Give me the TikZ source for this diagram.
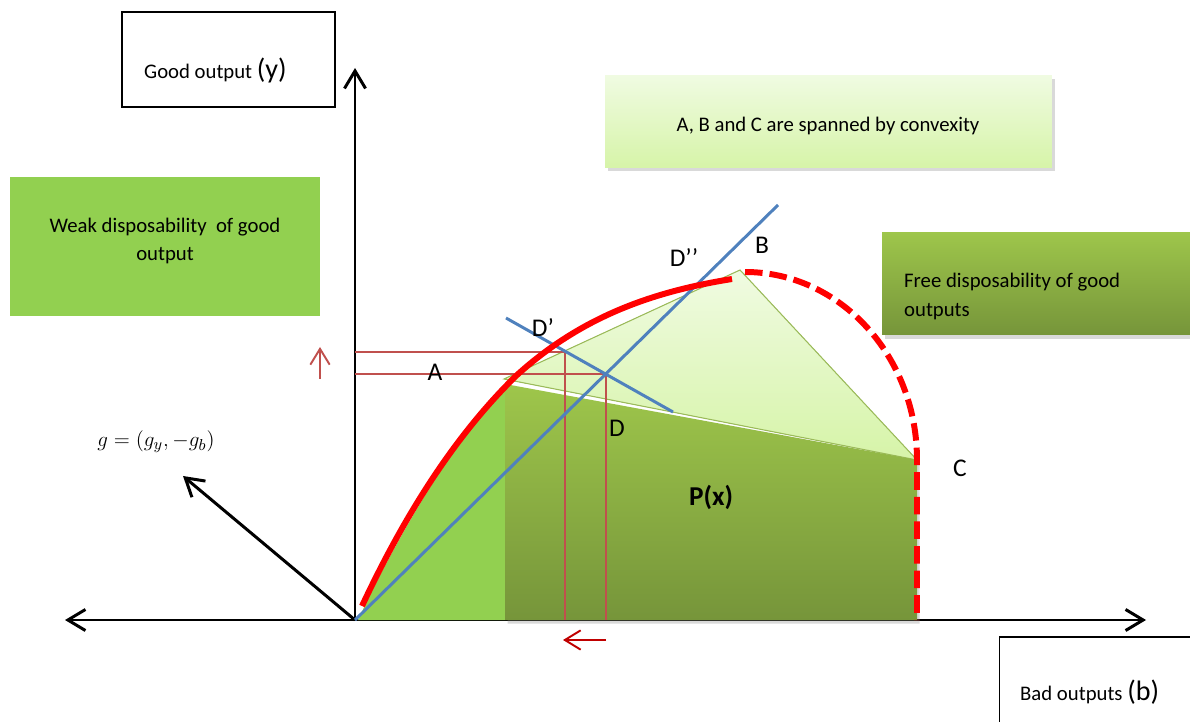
\documentclass[tikz,border=0pt]{standalone}
\usepackage{fontspec}
\setmainfont{Carlito}
\usetikzlibrary{arrows.meta,shadows}

\definecolor{weakgreen}{HTML}{92D050}
\definecolor{hulltop}{HTML}{F0FBE2}
\definecolor{hullbot}{HTML}{D6F4A8}
\definecolor{ptop}{HTML}{9EC64B}
\definecolor{pbot}{HTML}{76953A}
\definecolor{edgegreen}{HTML}{9BBB59}
\definecolor{lineblue}{HTML}{4F81BD}
\definecolor{guidered}{HTML}{C0504D}
\definecolor{darkred}{HTML}{C00000}

\begin{document}
\begin{tikzpicture}[
            x=0.02cm, y=-0.02cm,
            axis/.style={
                line width=1.7pt,
                black
            },
            frontier/.style={
                line width=3.4pt,
                red
            },
            blueline/.style={
                line width=1.7pt,
                lineblue
            },
            guide/.style={
                line width=0.8pt,
                guidered
            },
            label/.style={
                font=\fontsize{14.5}{17}\selectfont
            },
            plainbox/.style={
                draw,
                line width=0.6pt,
                inner sep=0pt
            },
            boxtext/.style={
                font=\fontsize{11.8}{16.4}\selectfont
            },
            softshadow/.style={
                drop shadow={opacity=0.3, shadow xshift=1.5pt, shadow yshift=-2pt}
            }
        ]

            \useasboundingbox (0,0) rectangle (1190,722);

            % points
            \coordinate (O) at (355,620);
            \coordinate (xl) at (65,620);
            \coordinate (xr) at (1146,620);
            \coordinate (yt) at (355,68);
            \coordinate (gv) at (183,476);
            \coordinate (Pa) at (505,384);
            \coordinate (Pb) at (740,270);
            \coordinate (Pc) at (917,460);
            \coordinate (Pd) at (917,620);
            \coordinate (Pe) at (505,620);
            \coordinate (Dp) at (565,352);
            \coordinate (Dd) at (606,374);
            \coordinate (r1) at (778,205);
            \coordinate (n0) at (506,318);
            \coordinate (n1) at (673,412);

            % axes and direction
            \draw[axis, {Straight Barb[length=10pt,width=12pt]}-{Straight Barb[length=10pt,width=12pt]}] (xl) -- (xr);
            \draw[axis, -{Straight Barb[length=10pt,width=12pt]}] (O) -- (yt);
            \draw[axis, -{Straight Barb[length=10pt,width=12pt]}] (O) -- (gv);

            % output set
            \fill[weakgreen] (358,620) .. controls (398,535) and (450,448) .. (Pa) -- (Pe) -- cycle;
            \filldraw[top color=hulltop, bottom color=hullbot, draw=edgegreen, line width=0.6pt]
                (504,379) -- (Pb) -- (Pc) -- cycle;
            \path[top color=ptop, bottom color=pbot, softshadow]
                (Pa) -- (Pc) -- (Pd) -- (Pe) -- cycle;

            % projections
            \draw[guide] (Dp -| O) -- (Dp) -- (Dp |- O);
            \draw[guide] (Dd -| O) -- (Dd) -- (Dd |- O);

            \draw[blueline] (O) -- (r1);
            \draw[blueline] (n0) -- (n1);

            % frontier
            \draw[frontier] (362,606) .. controls (400,525) and (450,440) .. (517,375)
                .. controls (580,318) and (650,292) .. (732,279);
            \draw[frontier, dash pattern=on 10pt off 4pt]
                (745,272) .. controls (840,272) and (917,356) .. (Pc) -- (Pd);

            % small arrows
            \coordinate (up0) at (320,379);
            \coordinate (up1) at (320,347);
            \coordinate (lt0) at (606,640);
            \coordinate (lt1) at (563,640);
            \draw[guide, line width=1.1pt, -{Straight Barb[length=9pt,width=11pt]}] (up0) -- (up1);
            \draw[darkred, line width=1.1pt, -{Straight Barb[length=9pt,width=11pt]}] (lt0) -- (lt1);

            % point labels
            \node[label] (A) at (435,372) {A};
            \node[label] (Dpl) at (543,328) {D’};
            \node[label] (Dl) at (617,428) {D};
            \node[label] (Dppl) at (684,258) {D’’};
            \node[label] (B) at (762,245) {B};
            \node[label] (C) at (960,468) {C};
            \node[font=\bfseries\fontsize{15.5}{18}\selectfont] (Px) at (711,497) {P(x)};
            \node[font=\fontsize{12.5}{14}\selectfont] (g) at (156,442) {$g=(g_y,-g_b)$};

            % boxes
            \node[plainbox, minimum width=4.26cm, minimum height=1.9cm] (ybox) at (228.5,59.5) {};
            \node[boxtext, anchor=west] (ytext) at (138,70) {Good output {\fontsize{16}{18}\selectfont(y)}};

            \node[plainbox, minimum width=4.1cm, minimum height=2.2cm] (bbox) at (1102,692) {};
            \node[boxtext, anchor=west] (btext) at (1014,692) {Bad outputs {\fontsize{16}{18}\selectfont(b)}};

            \node[fill=weakgreen, minimum width=6.2cm, minimum height=2.78cm, inner sep=0pt] (weak) at (165,246.5) {};
            \node[boxtext, align=center] (weaktext) at (165,241) {Weak disposability\ \ of good\\output};

            \node[top color=hulltop, bottom color=hullbot, softshadow, minimum width=8.94cm, minimum height=1.86cm, inner sep=0pt] (conv) at (828.5,121.5) {};
            \node[boxtext] (convtext) at (828,126) {A, B and C are spanned by convexity};

            \node[top color=ptop, bottom color=pbot, softshadow, minimum width=6.26cm, minimum height=2.06cm, inner sep=0pt] (free) at (1038.5,283.5) {};
            \node[boxtext, anchor=west, align=left] (freetext) at (898,296.5) {Free disposability of good\\outputs};

        \end{tikzpicture}
\end{document}
